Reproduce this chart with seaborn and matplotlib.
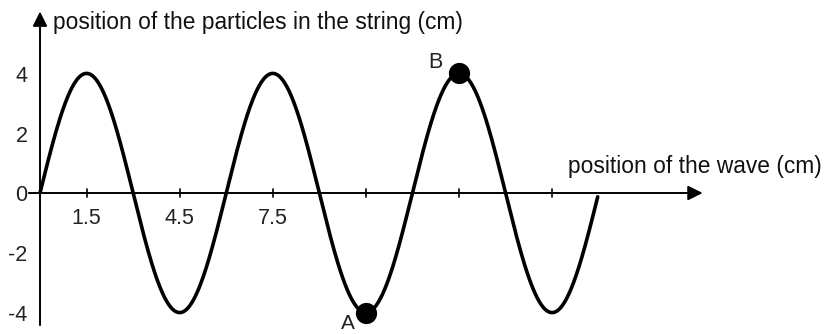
import numpy as np
import pandas as pd
import matplotlib
matplotlib.use("Agg")
import matplotlib.pyplot as plt
import seaborn as sns

# Wave on a string: amplitude and wavelength in cm
amplitude = 4.0
wavelength = 6.0
string_length = 17.97

# Axis ticks and labels
x_ticks = [1.5, 4.5, 7.5, 10.5, 13.5, 16.5]
x_tick_labels = ["1.5", "4.5", "7.5", "", "", ""]
y_ticks = [4, 2, 0, -2, -4]
y_tick_labels = ["4", "2", "0", "-2", "-4"]

# Marked particles
point_names = ["A", "B"]
point_x = [10.5, 13.5]
point_y = [-4.0, 4.0]

x_title = "position of the wave (cm)"
y_title = "position of the particles in the string (cm)"

sns.set_theme(style="white")
plt.rcParams["font.family"] = ["Liberation Sans", "DejaVu Sans"]

fig = plt.figure(figsize=(8.28, 3.34), dpi=100)
ax = fig.add_axes([0, 0, 1, 1])
ax.set_xlim(-1.289, 25.39)
ax.set_ylim(-4.716, 6.455)
ax.axis("off")

# The wave profile
xs = np.linspace(0, string_length, 800)
wave = pd.DataFrame({"x": xs, "y": amplitude * np.sin(2 * np.pi * xs / wavelength)})
sns.lineplot(data=wave, x="x", y="y", color="black", linewidth=2.6, ax=ax,
             sort=False, estimator=None, zorder=3)

# Axes with arrow heads
arrow = dict(arrowstyle="-|>", color="black", lw=1.4, mutation_scale=22,
             shrinkA=0, shrinkB=0)
ax.annotate("", xy=(21.35, 0), xytext=(-0.36, 0), arrowprops=arrow)
ax.annotate("", xy=(0, 6.07), xytext=(0, -4.42), arrowprops=arrow)

# Tick marks crossing the horizontal axis
for xt, lab in zip(x_ticks, x_tick_labels):
    ax.plot([xt, xt], [-0.14, 0.14], color="black", lw=1.2)
    if lab:
        ax.text(xt, -0.85, lab, ha="center", va="center", fontsize=15.5,
                color="#222222")

for yt, lab in zip(y_ticks, y_tick_labels):
    ax.text(-0.4, yt - 0.1, lab, ha="right", va="center", fontsize=15.5,
            color="#222222")

# Particles A and B
sns.scatterplot(x=point_x, y=point_y, color="black", s=200, ax=ax,
                edgecolor="black", zorder=4, legend=False)
ax.text(point_x[0] - 0.57, point_y[0] - 0.38, point_names[0], ha="center",
        va="center", fontsize=15, color="#222222")
ax.text(point_x[1] - 0.77, point_y[1] + 0.36, point_names[1], ha="center",
        va="center", fontsize=15.5, color="#222222")

# Axis titles
ax.text(0.42, 5.48, y_title, ha="left", va="baseline", fontsize=16.4,
        color="#111111")
ax.text(17.0, 0.9, x_title, ha="left", va="center", fontsize=16.4,
        color="#111111")

fig.savefig("out.png", dpi=100)
